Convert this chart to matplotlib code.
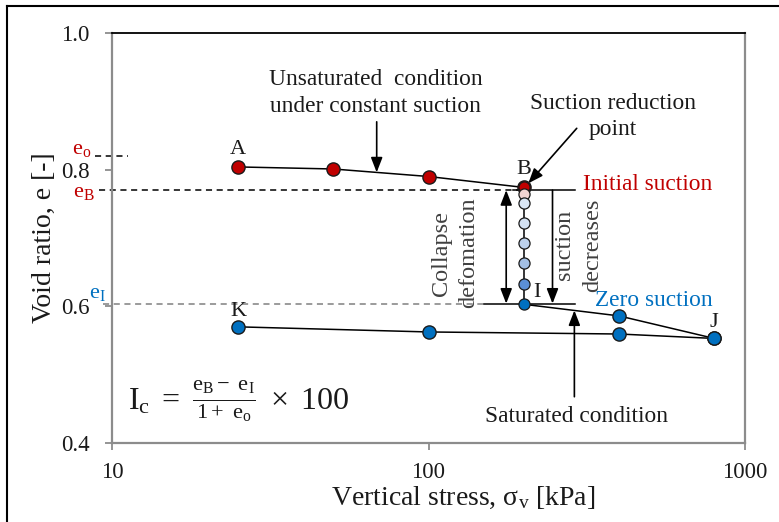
import matplotlib
matplotlib.use("Agg")
import matplotlib.pyplot as plt
from matplotlib.lines import Line2D

plt.rcParams['font.family'] = ['Liberation Serif', 'DejaVu Serif']
plt.rcParams['mathtext.fontset'] = 'custom'
plt.rcParams['mathtext.rm'] = 'Liberation Serif'
plt.rcParams['mathtext.it'] = 'Liberation Serif:italic'
plt.rcParams['mathtext.bf'] = 'Liberation Serif:bold'

# ---------------- data ----------------
unsat_stress = [25, 50, 100, 200]
unsat_e = [0.804, 0.801, 0.790, 0.774]

collapse_stress = [200, 200, 200, 200, 200, 200, 200, 200]
collapse_e = [0.774, 0.765, 0.751, 0.722, 0.693, 0.663, 0.632, 0.603]
collapse_colors = ['#C00000', '#F2D4D2', '#DAE6F4', '#D3E1F2', '#BDD1EC',
                   '#A3BFE4', '#5B8FD6', '#0070C0']

sat_load_stress = [200, 400, 800]
sat_load_e = [0.603, 0.586, 0.553]
sat_unload_stress = [800, 400, 100, 25]
sat_unload_e = [0.553, 0.5595, 0.5625, 0.570]

e_o = 0.820
e_B = 0.770
e_I = 0.604

x_ticks = [10, 100, 1000]
x_ticklabels = ['10', '100', '1000']
y_ticks = [0.4, 0.6, 0.8, 1.0]
y_ticklabels = ['0.4', '0.6', '0.8', '1.0']

RED = '#C00000'
BLUE = '#0070C0'
EDGE = '#1a1a1a'
GRAYTXT = '#404040'
TXT = '#1a1a1a'
ANN = 16.8

# ---------------- figure ----------------
fig = plt.figure(figsize=(7.79, 5.22), dpi=100)
ax = fig.add_axes([112/779, 1-443/522, (745-112)/779, (443-33)/522])
ax.set_xscale('log')
ax.set_xlim(10, 1000)
ax.set_ylim(0.4, 1.0)

# outer frame (top and left)
fig.add_artist(Line2D([7/779, 1], [1-6/522, 1-6/522], transform=fig.transFigure,
                      color='black', lw=1.5))
fig.add_artist(Line2D([7/779, 7/779], [0, 1-6/522], transform=fig.transFigure,
                      color='black', lw=1.5))

# spines
for s in ['left', 'bottom', 'right']:
    ax.spines[s].set_color('#8c8c8c')
    ax.spines[s].set_linewidth(1.6)
ax.spines['top'].set_color('black')
ax.spines['top'].set_linewidth(1.3)

ax.set_xticks(x_ticks)
ax.set_xticklabels(x_ticklabels)
ax.set_yticks(y_ticks)
ax.set_yticklabels(y_ticklabels)
ax.minorticks_off()
ax.tick_params(axis='both', direction='out', length=5, width=1.3, color='#8c8c8c',
               labelsize=16.5, labelcolor=TXT)
ax.tick_params(axis='y', pad=11)
ax.tick_params(axis='x', pad=9)

# reference lines
ax.plot([8.84, 11.2], [e_o, e_o], ls=(0, (4, 3)), color='black', lw=1.1, clip_on=False)
ax.plot([9.1, 200], [e_B, e_B], ls=(0, (4, 3)), color='black', lw=1.1, clip_on=False)
ax.plot([9.37, 150], [e_I, e_I], ls=(0, (4, 3)), color='#808080', lw=1.1, clip_on=False)
ax.plot([185, 290], [e_B, e_B], color='black', lw=1.1)
ax.plot([150, 290], [e_I, e_I], color='black', lw=1.1)

# curves
ax.plot(unsat_stress, unsat_e, color='black', lw=1.1, zorder=3)
ax.plot(collapse_stress, collapse_e, color='black', lw=1.1, zorder=3)
ax.plot(sat_load_stress, sat_load_e, color='black', lw=1.1, zorder=3)
ax.plot(sat_unload_stress, sat_unload_e, color='black', lw=1.1, zorder=3)

ax.plot(unsat_stress, unsat_e, ls='none', marker='o', ms=9.5, mfc=RED, mec=EDGE,
        mew=1.0, zorder=5)
for xs, ys, c in zip(collapse_stress, collapse_e, collapse_colors):
    ax.plot([xs], [ys], ls='none', marker='o', ms=8, mfc=c, mec=EDGE, mew=0.9, zorder=5)
ax.plot(sat_load_stress[1:], sat_load_e[1:], ls='none', marker='o', ms=9.5, mfc=BLUE,
        mec=EDGE, mew=1.0, zorder=5)
ax.plot(sat_unload_stress, sat_unload_e, ls='none', marker='o', ms=9.5, mfc=BLUE,
        mec=EDGE, mew=1.0, zorder=5)

# arrows
arrow_kw = dict(arrowstyle='-|>,head_length=0.9,head_width=0.35', color='black', lw=1.2,
                shrinkA=0, shrinkB=0)
ax.annotate('', xy=(176, e_B), xytext=(176, e_I),
            arrowprops=dict(arrowstyle='<|-|>,head_length=0.9,head_width=0.35',
                            color='black', lw=1.2, shrinkA=0, shrinkB=0))
ax.annotate('', xy=(246.5, e_I), xytext=(246.5, e_B), arrowprops=arrow_kw)
ax.annotate('', xy=(68.6, 0.796), xytext=(68.6, 0.870), arrowprops=arrow_kw)
ax.annotate('', xy=(206.7, 0.780), xytext=(294, 0.8605), arrowprops=arrow_kw)
ax.annotate('', xy=(289, 0.594), xytext=(289, 0.4677), arrowprops=arrow_kw)

# point labels
lab_kw = dict(fontsize=16, ha='center', va='center', color=TXT)
ax.text(25, 0.829, 'A', **lab_kw)
ax.text(200, 0.800, 'B', **lab_kw)
ax.text(220, 0.620, 'I', **lab_kw)
ax.text(25, 0.592, 'K', **lab_kw)
ax.text(800, 0.576, 'J', **lab_kw)

# annotations
ax.text(68.2, 0.912, 'Unsaturated  condition\nunder constant suction', fontsize=ANN,
        ha='center', va='center', linespacing=1.42, color=TXT)
ax.text(383, 0.878, 'Suction reduction\npoint', fontsize=ANN, ha='center', va='center',
        linespacing=1.32, color=TXT)
ax.text(307, 0.779, 'Initial suction', fontsize=ANN, ha='left', va='center', color=RED)
ax.text(335.7, 0.609, 'Zero suction', fontsize=ANN, ha='left', va='center', color=BLUE)
ax.text(121.3, 0.678, 'Collapse\ndefomation', fontsize=17.5, rotation=90, ha='center',
        va='center', linespacing=1.38, color=GRAYTXT, multialignment='center')
ax.text(298, 0.690, 'suction\ndecreases', fontsize=17.5, rotation=90, ha='center',
        va='center', linespacing=1.4, color=GRAYTXT, multialignment='center')
ax.text(294, 0.4395, 'Saturated condition', fontsize=ANN, ha='center', va='center',
        color=TXT)
ax.text(25.2, 0.4604,
        r'$\mathrm{I_c}\ =\ \frac{\mathrm{e_B}-\ \mathrm{e_I}}{1+\ \mathrm{e_o}}\ \times\ 100$',
        fontsize=23, ha='center', va='center', color=TXT)

# e labels outside the axis
ax.text(8.04, 0.829, r'$\mathrm{e_o}$', fontsize=16, ha='center', va='center',
        color=RED, clip_on=False)
ax.text(8.15, 0.766, r'$\mathrm{e_B}$', fontsize=16, ha='center', va='center',
        color=RED, clip_on=False)
ax.text(8.97, 0.619, r'$\mathrm{e_I}$', fontsize=16, ha='center', va='center',
        color=BLUE, clip_on=False)

# axis labels
fig.text(44/779, 1-238/522, 'Void ratio, e [-]', rotation=90, fontsize=20,
         ha='center', va='center', color=TXT)
fig.text(463/779, 1-498/522, r'Vertical stress, $\mathrm{\sigma_v}$ [kPa]', fontsize=20,
         ha='center', va='center', color=TXT)

fig.savefig('out.png', dpi=100)
